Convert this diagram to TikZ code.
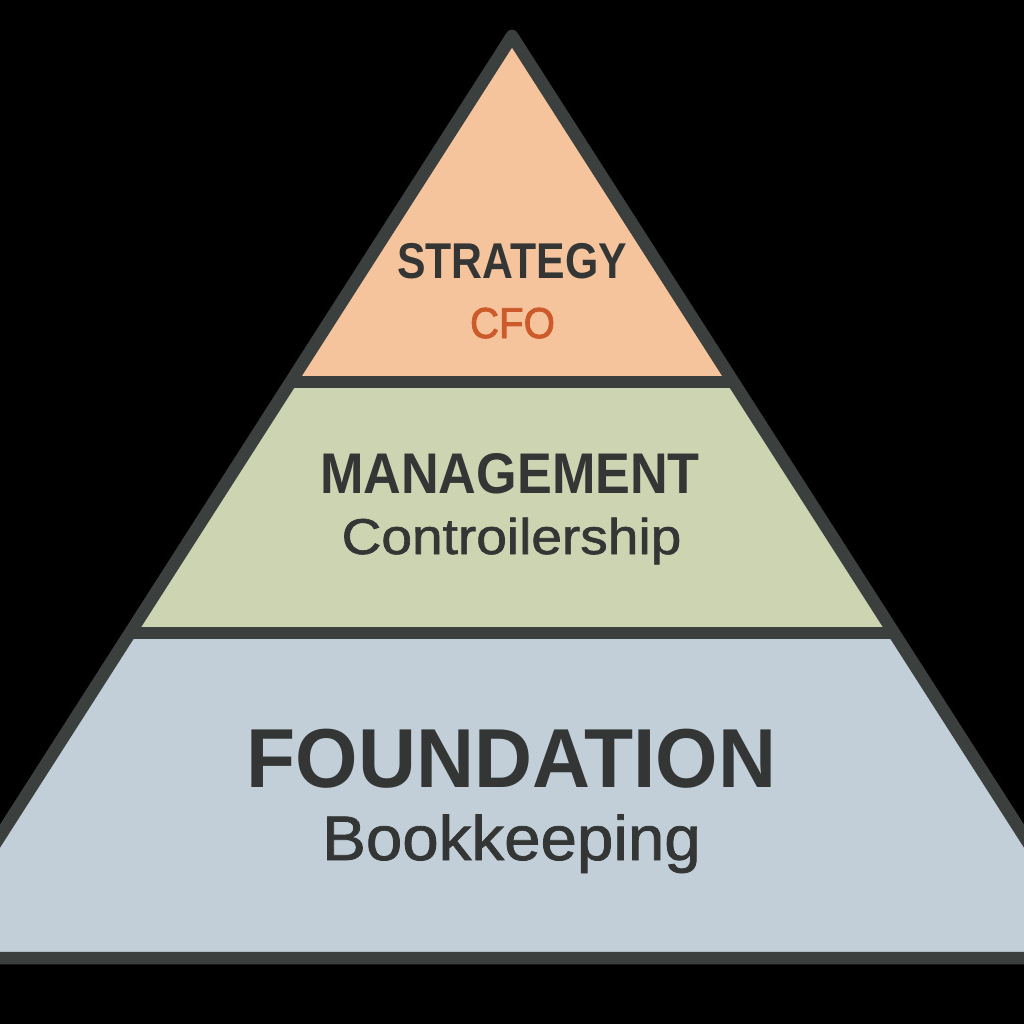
\documentclass[tikz,border=0pt]{standalone}
\usepackage{fontspec}
\usepackage{graphicx}
\setmainfont{Liberation Sans}
\newfontfamily\medfont{Liberation Sans}[FakeBold=1.2]
\newfontfamily\semifont{Liberation Sans}[FakeBold=2]
\definecolor{topfill}{HTML}{F6C49C}
\definecolor{midfill}{HTML}{CDD4B2}
\definecolor{botfill}{HTML}{C2CFD8}
\definecolor{edge}{HTML}{3B3F3D}
\definecolor{ink}{HTML}{333634}
\definecolor{cfo}{HTML}{CC5A2A}
\tikzset{
  edgeline/.style={draw=edge, line width=0.125cm, line join=round},
  lbl/.style={inner sep=0pt, anchor=base, text=ink},
}
\begin{document}
\begin{tikzpicture}[x=0.01cm,y=-0.01cm]
\fill[black] (0,0) rectangle (1024,1024);
\useasboundingbox (0,0) rectangle (1024,1024);
\begin{scope}
\clip (0,0) rectangle (1024,1024);
% corners
\coordinate (apex) at (512,36);
\coordinate (l1) at (290.6,382);
\coordinate (r1) at (733.4,382);
\coordinate (l2) at (130,633);
\coordinate (r2) at (894,633);
\coordinate (bl) at (-78,958);
\coordinate (br) at (1102,958);
\fill[topfill] (apex) -- (r1) -- (l1) -- cycle;
\fill[midfill] (l1) -- (r1) -- (r2) -- (l2) -- cycle;
\fill[botfill] (l2) -- (r2) -- (br) -- (bl) -- cycle;
\draw[edgeline] (l1) -- (r1);
\draw[edgeline] (l2) -- (r2);
\draw[edgeline] (apex) -- (br) -- (bl) -- cycle;
\end{scope}
\node[lbl] (strategy) at (512,278) {\fontsize{14.3}{14.3}\selectfont\scalebox{0.85}[1]{\bfseries STRATEGY}};
\node[lbl, text=cfo] (cfolbl) at (512.5,338) {\fontsize{12.3}{12.3}\semifont\scalebox{0.93}[1]{CFO}};
\node[lbl] (management) at (510,493) {\fontsize{16.3}{16.3}\selectfont\scalebox{0.91}[1]{\bfseries MANAGEMENT}};
\node[lbl] (controil) at (511.5,554) {\fontsize{14.3}{14.3}\medfont\scalebox{1.095}[1]{Controilership}};
\node[lbl] (foundation) at (511.5,787) {\fontsize{23.8}{23.8}\selectfont\scalebox{0.96}[1]{\bfseries FOUNDATION}};
\node[lbl] (bookkeeping) at (511.5,860) {\fontsize{17.9}{17.9}\medfont\scalebox{1.04}[1]{Bookkeeping}};
\end{tikzpicture}
\end{document}
